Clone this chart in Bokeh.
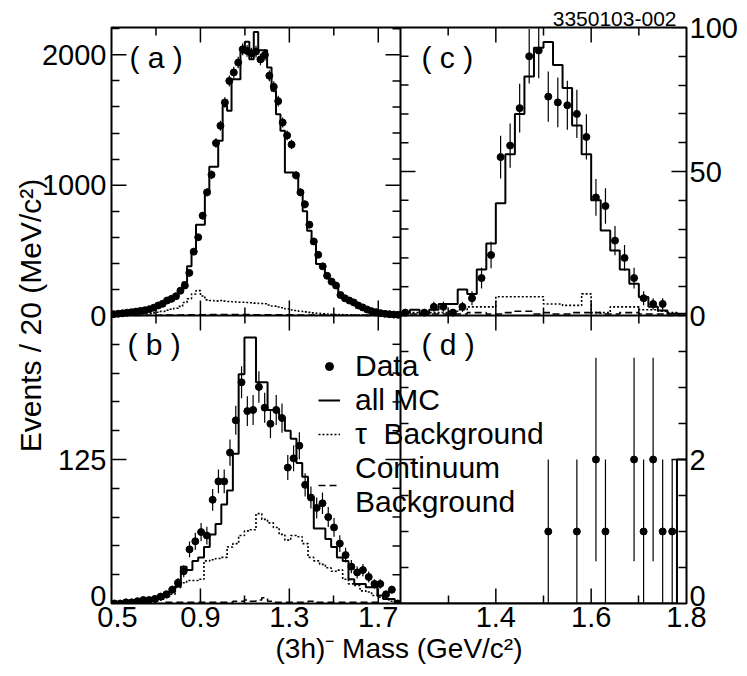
import numpy as np
from bokeh.plotting import figure
from bokeh.models import Range1d, LinearAxis, FixedTicker, Label, Span, Legend, LegendItem, Title
from bokeh.embed import file_html
from bokeh.resources import INLINE

FONT = "Liberation Sans"

# ---------------- data ----------------
# (a) 20 MeV bins, 0.5 - 1.8 GeV
a_start, a_width = 0.5, 0.02
a_data = [10, 13, 17, 22, 25, 30, 35, 40, 48, 60,
          77, 90, 115, 128, 148, 190, 230, 327, 490, 600,
          766, 945, 1080, 1323, 1456, 1635, 1800, 1865, 1941, 2043,
          2030, 2010, 2025, 1965, 2000, 1840, 1755, 1645, 1481, 1382,
          1312, 1076, 945, 853, 697, 568, 466, 377, 305, 260,
          230, 157, 132, 115, 100, 77, 62, 46, 33, 25,
          18, 13, 10, 7, 5]
a_mc = [8, 12, 16, 20, 24, 28, 33, 40, 48, 58,
        70, 85, 105, 125, 150, 190, 255, 378, 485, 697,
        697, 953, 1142, 1142, 1341, 1609, 1571, 1813, 1813, 2018,
        2100, 1967, 2176, 2035, 2035, 1903, 1724, 1545, 1418, 1098,
        1098, 1060, 960, 800, 651, 550, 396, 396, 305, 255,
        230, 153, 140, 115, 100, 80, 60, 45, 33, 25,
        18, 13, 9, 6, 4]
a_tau = [2, 3, 4, 5, 6, 8, 10, 12, 15, 20,
         25, 32, 40, 48, 56, 70, 100, 128, 165, 191,
         150, 120, 115, 112, 115, 110, 108, 105, 102, 102,
         100, 98, 95, 92, 90, 80, 72, 65, 60, 50,
         42, 38, 33, 28, 24, 20, 17, 14, 12, 10,
         8, 7, 6, 5, 4, 4, 3, 3, 2, 2,
         2, 1, 1, 1, 0]
a_cont = [1, 1, 1, 1, 1, 1, 1, 2, 2, 2,
          2, 3, 3, 3, 4, 4, 5, 5, 6, 6,
          6, 7, 7, 7, 7, 7, 7, 7, 7, 7,
          7, 7, 6, 6, 6, 6, 6, 5, 5, 5,
          5, 5, 4, 4, 4, 4, 3, 3, 3, 3,
          3, 2, 2, 2, 2, 2, 2, 1, 1, 1,
          1, 1, 1, 1, 1]

# (b) 50 bins, 0.5 - 1.8 GeV
b_start, b_width = 0.5, 0.026
b_data = [0, 0, 1, 1, 2, 3, 3, 4, 6, 8,
          12, 18, 28, 47, 54, 62, 59, 90, 106, 106,
          131, 159, 192, 167, 168, 188, 170, 156, 168, 161,
          118, 126, 137, 103, 92, 83, 87, 75, 66, 52,
          42, 32, 27, 29, 23, 17, 17, 8, 12, 0]
b_mc = [0, 0, 0, 1, 1, 2, 2, 3, 4, 6,
        10, 15, 32, 29, 37, 40, 49, 60, 69, 86,
        98, 130, 199, 231, 231, 192, 192, 168, 168, 161,
        150, 143, 122, 110, 92, 65, 65, 56, 49, 40,
        37, 21, 17, 17, 14, 14, 7, 4, 4, 0]
b_tau = [0, 0, 0, 0.5, 1, 1, 1.5, 2, 3, 5,
         8, 14, 18, 20, 20, 21, 37, 38, 39, 40,
         49, 52, 59, 63, 64, 78, 73, 70, 66, 60,
         55, 59, 58, 52, 40, 37, 34, 31, 28, 29,
         21, 17, 15.6, 11, 10, 7, 5.5, 4, 2, 0]
b_cont = [0, 0, 0, 0, 0, 0, 0, 0, 0, 1,
          1, 1, 1, 1, 1, 1, 1, 1, 1, 1,
          1, 2, 2, 3, 2, 3, 5, 2, 1, 1,
          1, 1, 1, 1, 2, 1, 1, 1, 1, 1,
          1, 1, 1, 1, 1, 1, 0, 0, 0, 0]

# (c) 20 MeV bins, 1.2 - 1.8 GeV
c_start, c_width = 1.2, 0.02
c_data = [1, 0, 1, 3, 3, 1, 3, 6, 13, 21, 55, 59, 72, 90, 92,
          76, 74, 73, 70, 62, 41, 38, 26, 20, 13, 6, 4, 4, 0, 0]
c_mc = [1, 2, 0.6, 2, 4, 4, 9, 7.5, 16, 25, 39, 56, 70, 83, 93,
        95, 87, 79, 66, 56, 40, 29.5, 22.6, 16, 11, 6.4, 3, 1.7, 0.6, 0.6]
c_tau = [1, 1, 0.5, 1, 1, 1.5, 2, 3, 3, 3, 6.5, 6.5, 6.5, 6.5, 6.5,
         4, 4, 3.5, 3.5, 7.5, 1, 1, 3, 3, 3, 2, 2, 1.5, 1, 0.5]
c_cont = [0, 0.5, 0.5, 0.5, 0.5, 0.5, 0.5, 1, 1, 0.5, 0.5, 1, 1.5, 1.5, 0.5,
          1, 0.5, 0.5, 1, 1, 1, 0.5, 0.5, 1, 1, 0.5, 0.5, 0.5, 0, 0]

# (d) 20 MeV bins, 1.2 - 1.8 GeV
d_start, d_width = 1.2, 0.02
d_data = [0, 0, 0, 0, 0, 0, 0, 0, 0, 0, 0, 0, 0, 0, 0,
          1, 0, 0, 1, 0, 2, 1, 0, 0, 2, 1, 2, 1, 1, 0]
d_mc = [0, 0, 0, 0, 0, 0, 0, 0, 0, 0, 0, 0, 0, 0, 0,
        0, 0, 0, 0, 0, 0, 0, 0, 0, 0, 0, 0, 0, 0, 2]

# tick values
a_major = [0, 1000, 2000]
a_minor = [200, 400, 600, 800, 1200, 1400, 1600, 1800, 2200]
b_major = [0, 125]
b_minor = [25, 50, 75, 100, 150, 175, 200, 225]
c_major = [0, 50, 100]
c_minor = [10, 20, 30, 40, 60, 70, 80, 90]
d_major = [0, 2]
d_minor = [0.5, 1, 1.5, 2.5, 3, 3.5]
xl_major = [0.5, 0.9, 1.3, 1.7]
xl_minor = [0.7, 1.1, 1.5]
xr_major = [1.4, 1.6, 1.8]
xr_minor = [1.3, 1.5, 1.7]

# ---------------- layout geometry ----------------
BL, BR, BT, BB = 111, 55, 27, 72
FW, FH = 575, 576
W, H = BL + FW + BR, BT + FH + BB
LEFT_PW, RIGHT_PW = 289, 286               # panel frame widths
LIFT_PX, SHIFT_PX = 8, 6                   # corner labels nudged away from the corners
MAJ_LEN, MIN_LEN = 15, 8

XL = Range1d(0.5, 0.5 + FW * 1.3 / LEFT_PW)
XR = Range1d(1.8 - FW * 0.6 / RIGHT_PW, 1.8)
YA = Range1d(-2210, 2210)
YB = Range1d(0, 500)
YC = Range1d(-100, 100)
YD = Range1d(0, 8)


def from_bottom(v, src, dst):
    return dst.start + (v - src.start) * (dst.end - dst.start) / (src.end - src.start)


def from_top(v, src, dst):
    return dst.end - (src.end - v) * (dst.end - dst.start) / (src.end - src.start)


def lbl(v):
    return ("%g" % v)


p = figure(width=W, height=H, x_range=XL, y_range=YA,
           output_backend="svg", toolbar_location=None,
           x_axis_location=None, y_axis_location=None,
           min_border_left=BL, min_border_right=BR,
           min_border_top=BT, min_border_bottom=BB)
p.extra_x_ranges = {"xr": XR}
p.extra_y_ranges = {"yb": YB, "yc": YC, "yd": YD}
p.grid.visible = False
p.background_fill_color = "white"
p.border_fill_color = "white"
p.outline_line_color = "black"
p.outline_line_width = 2

p.title = Title(text="3350103-002", align="right", text_font=FONT, text_font_size="21px",
                text_font_style="normal", text_color="black", standoff=3, offset=10)


def style_axis(ax, standoff):
    ax.axis_line_color = None
    ax.major_tick_in = 0          # major ticks are drawn as rays below
    ax.major_tick_out = 0
    ax.minor_tick_in = MIN_LEN
    ax.minor_tick_out = 0
    ax.minor_tick_line_width = 1.5
    ax.minor_tick_line_color = "black"
    ax.major_label_text_font = FONT
    ax.major_label_text_font_size = "29px"
    ax.major_label_text_color = "black"
    ax.major_label_standoff = standoff
    ax.axis_label_text_font = FONT
    ax.axis_label_text_font_style = "normal"
    ax.axis_label_text_color = "black"


lift_a = LIFT_PX * (YA.end - YA.start) / FH
lift_c = LIFT_PX * (YC.end - YC.start) / FH
shift_x = SHIFT_PX * (XL.end - XL.start) / FW

# left axis labels: (a) native, (b) mapped onto the lower half
left_pos = [float(v) for v in a_major]
left_txt = [lbl(v) for v in a_major]
for v in b_major:
    pos = from_bottom(v, YB, YA)
    left_pos.append(pos + lift_a if v == 0 else pos)
    left_txt.append(lbl(v))
lax = LinearAxis(ticker=FixedTicker(ticks=left_pos,
                                    minor_ticks=[float(v) for v in a_minor] +
                                    [from_bottom(v, YB, YA) for v in b_minor]),
                 major_label_overrides=dict(zip(left_pos, left_txt)),
                 axis_label="Events / 20 (MeV/c²)")
style_axis(lax, 5)
lax.axis_label_text_font_size = "30px"
lax.axis_label_standoff = -8
p.add_layout(lax, "left")

# right axis labels: (c) native, (d) mapped onto the lower half
right_pos = [float(v) for v in c_major]
right_txt = [lbl(v) for v in c_major]
for v in d_major:
    pos = from_bottom(v, YD, YC)
    right_pos.append(pos + lift_c if v == 0 else pos)
    right_txt.append(lbl(v))
rax = LinearAxis(y_range_name="yc",
                 ticker=FixedTicker(ticks=right_pos,
                                    minor_ticks=[float(v) for v in c_minor] +
                                    [from_bottom(v, YD, YC) for v in d_minor]),
                 major_label_overrides=dict(zip(right_pos, right_txt)))
style_axis(rax, 3)
p.add_layout(rax, "right")

# bottom axis labels: left panels native, right panels mapped
bot_pos = [float(v) + (shift_x if v == xl_major[0] else 0) for v in xl_major]
bot_txt = [lbl(v) for v in xl_major]
for v in xr_major:
    bot_pos.append(from_top(v, XR, XL))
    bot_txt.append(lbl(v))
bax = LinearAxis(ticker=FixedTicker(ticks=bot_pos,
                                    minor_ticks=[float(v) for v in xl_minor] +
                                    [from_top(v, XR, XL) for v in xr_minor]),
                 major_label_overrides=dict(zip(bot_pos, bot_txt)),
                 axis_label="(3h)⁻ Mass (GeV/c²)")
style_axis(bax, 3)
bax.axis_label_text_font_size = "28px"
bax.axis_label_standoff = 3
p.add_layout(bax, "below")

# panel dividers
p.add_layout(Span(location=1.8, dimension="height", line_color="black", line_width=2))
p.add_layout(Span(location=0, dimension="width", line_color="black", line_width=2))


# tick marks drawn inside the frame, lengths in screen pixels
def ticks(xs, ys, angle, length, xr="default", yr="default"):
    p.ray(x=xs, y=ys, length=length, angle=angle, length_units="screen",
          line_color="black", line_width=1.5, x_range_name=xr, y_range_name=yr)


# top edge and horizontal divider
for (maj, mnr, xr, yr, ytop) in [(xl_major[1:], xl_minor, "default", "default", YA.end),
                                 (xr_major[:-1], xr_minor, "xr", "yc", YC.end)]:
    for ys, ang in [([ytop], -np.pi / 2), ([0], np.pi / 2), ([0], -np.pi / 2)]:
        ticks(maj, ys * len(maj), ang, MAJ_LEN, xr, yr)
        ticks(mnr, ys * len(mnr), ang, MIN_LEN, xr, yr)
# bottom edge majors
ticks(xl_major[1:], [YB.start] * 3, np.pi / 2, MAJ_LEN, "default", "yb")
ticks(xr_major[:-1], [YD.start] * 2, np.pi / 2, MAJ_LEN, "xr", "yd")
# left / right edge majors
ticks([0.5] * 2, a_major[1:], 0, MAJ_LEN)
ticks([0.5], b_major[1:], 0, MAJ_LEN, "default", "yb")
ticks([1.8] * 2, c_major[1:], np.pi, MAJ_LEN, "xr", "yc")
ticks([1.8], d_major[1:], np.pi, MAJ_LEN, "xr", "yd")
# vertical divider
ticks([1.8] * 2, a_major[1:], np.pi, MAJ_LEN)
ticks([1.8] * len(a_minor), a_minor, np.pi, MIN_LEN)
ticks([1.8], b_major[1:], np.pi, MAJ_LEN, "default", "yb")
ticks([1.8] * len(b_minor), b_minor, np.pi, MIN_LEN, "default", "yb")
ticks([1.2], c_major[1:2], 0, MAJ_LEN, "xr", "yc")
ticks([1.2] * len(c_minor), c_minor, 0, MIN_LEN, "xr", "yc")
ticks([1.2], d_major[1:], 0, MAJ_LEN, "xr", "yd")
ticks([1.2] * len(d_minor), d_minor, 0, MIN_LEN, "xr", "yd")


# ---------------- panels ----------------
def hist_xy(start, width, vals):
    edges = start + width * np.arange(len(vals) + 1)
    return np.repeat(edges, 2)[1:-1], np.repeat(np.asarray(vals, float), 2)


def draw_panel(start, width, data, mc, tau, cont, xr, yr, keep_zero=False):
    rs = {}
    if mc is not None:
        x, y = hist_xy(start, width, mc)
        rs["mc"] = p.line(x, y, line_color="black", line_width=2, x_range_name=xr, y_range_name=yr)
    if tau is not None:
        x, y = hist_xy(start, width, tau)
        rs["tau"] = p.line(x, y, line_color="black", line_width=1.6, line_dash="2 2",
                           x_range_name=xr, y_range_name=yr)
    if cont is not None:
        x, y = hist_xy(start, width, cont)
        rs["cont"] = p.line(x, y, line_color="black", line_width=1.6, line_dash="7 4",
                            x_range_name=xr, y_range_name=yr)
    d = np.asarray(data, float)
    cx = start + width * (np.arange(len(d)) + 0.5)
    m = np.ones(len(d), bool) if keep_zero else d > 0
    err = np.sqrt(d[m])
    p.segment(x0=cx[m], y0=d[m] - err, x1=cx[m], y1=d[m] + err, line_color="black",
              line_width=1.2, x_range_name=xr, y_range_name=yr)
    rs["data"] = p.scatter(cx[m], d[m], size=7, color="black", x_range_name=xr, y_range_name=yr)
    return rs


draw_panel(a_start, a_width, a_data, a_mc, a_tau, a_cont, "default", "default")
rb = draw_panel(b_start, b_width, b_data, b_mc, b_tau, b_cont, "default", "yb", keep_zero=True)
draw_panel(c_start, c_width, c_data, c_mc, c_tau, c_cont, "xr", "yc")
draw_panel(d_start, d_width, d_data, d_mc, None, None, "xr", "yd")


# ---------------- panel tags ----------------
def tag(text, x, y, xo, yo, xr="default", yr="default"):
    p.add_layout(Label(text=text, x=x, y=y, x_offset=xo, y_offset=yo, x_range_name=xr,
                       y_range_name=yr, text_font=FONT, text_font_size="30px",
                       text_color="black", text_align="left", text_baseline="middle"))


tag("( a )", XL.start, YA.end, 18, -30)
tag("( b )", XL.start, YB.end / 2, 16, -29, yr="yb")
tag("( c )", 1.2, YC.end, 21, -30, xr="xr", yr="yc")
tag("( d )", 1.2, YD.end / 2, 21, -29, xr="xr", yr="yd")

legend = Legend(items=[LegendItem(label="Data", renderers=[rb["data"]]),
                       LegendItem(label="all MC", renderers=[rb["mc"]]),
                       LegendItem(label="τ  Background", renderers=[rb["tau"]]),
                       LegendItem(label="Continuum\nBackground", renderers=[rb["cont"]])],
                location=(207, 84), padding=0, margin=0, spacing=0,
                glyph_width=22, glyph_height=20, label_standoff=15, label_height=20,
                label_text_font=FONT, label_text_font_size="30px",
                label_text_color="black",
                border_line_color=None, background_fill_alpha=0)
p.add_layout(legend)

open("out.html", "w").write(file_html(p, INLINE))
